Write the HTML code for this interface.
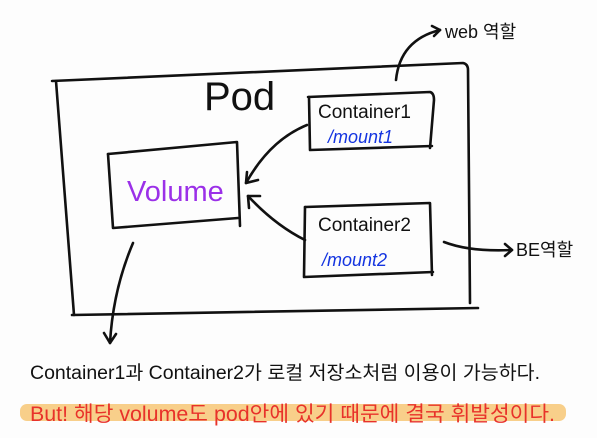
<!DOCTYPE html>
<html><head><meta charset="utf-8"><style>
body{margin:0;background:#fdfdfd;}
svg{display:block}
text{font-family:"Liberation Sans","Noto Sans CJK KR",sans-serif}
</style></head><body>
<svg width="597" height="438" viewBox="0 0 597 438" xmlns="http://www.w3.org/2000/svg">
<rect width="597" height="438" fill="#fdfdfd"/>
<g fill="none" stroke="#111" stroke-width="2.6" stroke-linecap="round" stroke-linejoin="round">
<path d="M52 81 L463 63 Q468 64 468 70 L470 303"/>
<path d="M56 81 L74 315"/>
<path d="M72 315 L478 308"/>
<path d="M108 154 L237 142 L240 226"/>
<path d="M108 154 L113 228 L238 218"/>
<path d="M308 97 L430 92 Q434 93 434 100 L430 148"/>
<path d="M309 97 L310 150 L432 146"/>
<path d="M305 207 L430 203 L432 275"/>
<path d="M305 207 L304 277 L433 272"/>
<path d="M307 125 Q270 140 246 183"/>
<path d="M246 183 L258 180 M246 183 L247 172"/>
<path d="M305 240 Q275 225 248 196"/>
<path d="M248 196 L260 196 M248 196 L249 208"/>
<path d="M133 243 Q113 290 110 343"/>
<path d="M110 343 L104 333 M110 343 L116 334"/>
<path d="M396 80 Q400 40 440 30"/>
<path d="M440 30 L432 26 M440 30 L434 36"/>
<path d="M444 242 Q470 252 512 250"/>
<path d="M512 250 L505 244 M512 250 L505 256"/>
</g>
<text x="204" y="110" font-size="40" fill="#111">Pod</text>
<text x="127" y="201" font-size="29" fill="#9b30e8">Volume</text>
<text x="318" y="118" font-size="19" fill="#111">Container1</text>
<text x="328" y="143" font-size="18" fill="#1535e0" font-style="italic">/mount1</text>
<text x="318" y="231" font-size="19" fill="#111">Container2</text>
<text x="322" y="266" font-size="18" fill="#1535e0" font-style="italic">/mount2</text>
<text x="445" y="38" font-size="18" fill="#111">web 역할</text>
<text x="516" y="256" font-size="18" fill="#111">BE역할</text>
<text x="30" y="379" font-size="19" fill="#111" textLength="510" lengthAdjust="spacingAndGlyphs">Container1과 Container2가 로컬 저장소처럼 이용이 가능하다.</text>
<rect x="20" y="404" width="546" height="17" rx="7" fill="#f8cf8a"/>
<text x="30" y="421" font-size="21" fill="#e8322a" textLength="525" lengthAdjust="spacingAndGlyphs">But! 해당 volume도 pod안에 있기 때문에 결국 휘발성이다.</text>
</svg>
</body></html>
